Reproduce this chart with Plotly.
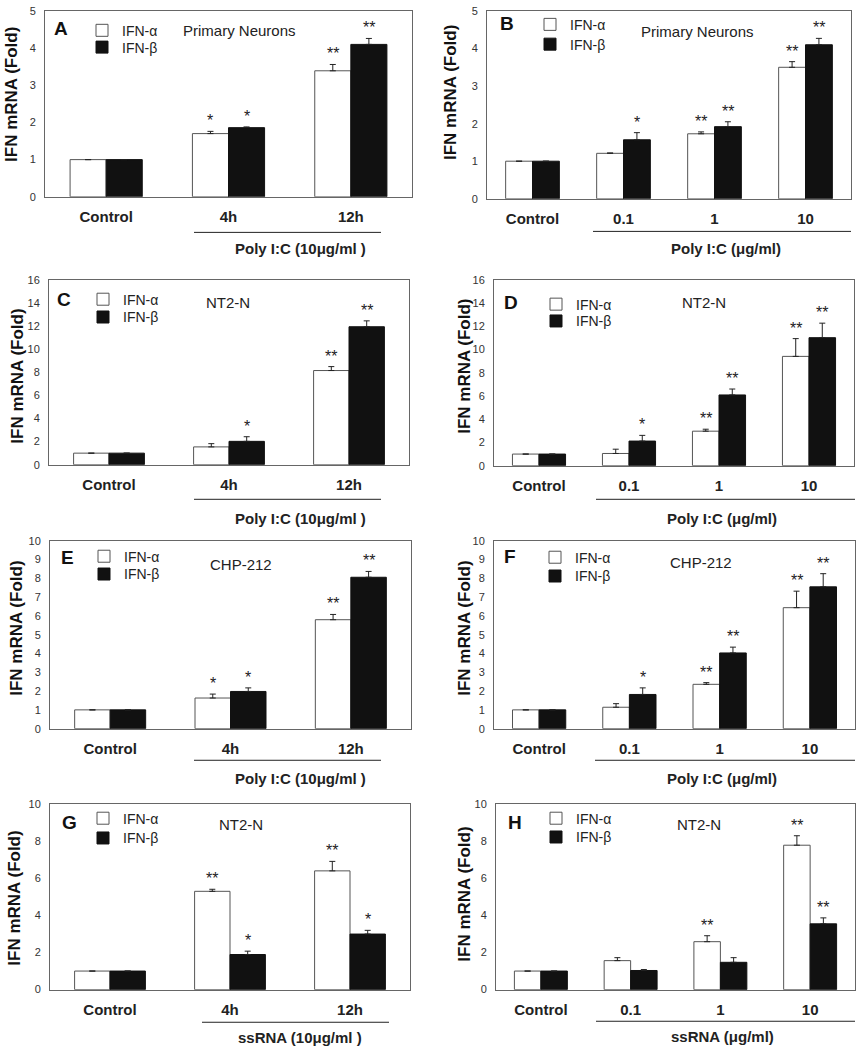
import plotly.graph_objects as go

W, H = 856, 1050
FONT = "Arial, Liberation Sans, Helvetica, sans-serif"

# ---------------- data ----------------
cats_time = ["Control", "4h", "12h"]
cats_dose = ["Control", "0.1", "1", "10"]

# Panel A – Primary Neurons, Poly I:C time
a_alpha = [1.0, 1.70, 3.39]
a_alpha_err = [0.0, 0.06, 0.17]
a_beta = [1.0, 1.86, 4.10]
a_beta_err = [0.0, 0.02, 0.16]
a_alpha_sig = ["", "*", "**"]
a_beta_sig = ["", "*", "**"]

# Panel B – Primary Neurons, Poly I:C dose
b_alpha = [1.0, 1.21, 1.73, 3.50]
b_alpha_err = [0.0, 0.01, 0.05, 0.15]
b_beta = [1.0, 1.57, 1.92, 4.10]
b_beta_err = [0.0, 0.19, 0.13, 0.17]
b_alpha_sig = ["", "", "**", "**"]
b_beta_sig = ["", "*", "**", "**"]

# Panel C – NT2-N, Poly I:C time
c_alpha = [1.0, 1.54, 8.15]
c_alpha_err = [0.0, 0.28, 0.34]
c_beta = [1.0, 2.02, 11.94]
c_beta_err = [0.0, 0.40, 0.51]
c_alpha_sig = ["", "", "**"]
c_beta_sig = ["", "*", "**"]

# Panel D – NT2-N, Poly I:C dose
d_alpha = [1.0, 1.05, 2.97, 9.41]
d_alpha_err = [0.0, 0.37, 0.17, 1.53]
d_beta = [1.0, 2.12, 6.09, 11.02]
d_beta_err = [0.0, 0.49, 0.51, 1.25]
d_alpha_sig = ["", "", "**", "**"]
d_beta_sig = ["", "*", "**", "**"]

# Panel E – CHP-212, Poly I:C time
e_alpha = [1.0, 1.63, 5.80]
e_alpha_err = [0.0, 0.21, 0.28]
e_beta = [1.0, 1.98, 8.06]
e_beta_err = [0.0, 0.19, 0.31]
e_alpha_sig = ["", "*", "**"]
e_beta_sig = ["", "*", "**"]

# Panel F – CHP-212, Poly I:C dose
f_alpha = [1.0, 1.14, 2.36, 6.44]
f_alpha_err = [0.0, 0.19, 0.09, 0.88]
f_beta = [1.0, 1.82, 4.03, 7.55]
f_beta_err = [0.0, 0.35, 0.31, 0.70]
f_alpha_sig = ["", "", "**", "**"]
f_beta_sig = ["", "*", "**", "**"]

# Panel G – NT2-N, ssRNA time
g_alpha = [1.0, 5.29, 6.39]
g_alpha_err = [0.0, 0.11, 0.51]
g_beta = [1.0, 1.89, 2.99]
g_beta_err = [0.0, 0.18, 0.20]
g_alpha_sig = ["", "**", "**"]
g_beta_sig = ["", "*", "*"]

# Panel H – NT2-N, ssRNA dose
h_alpha = [1.0, 1.56, 2.58, 7.77]
h_alpha_err = [0.0, 0.16, 0.32, 0.51]
h_beta = [1.0, 1.03, 1.47, 3.54]
h_beta_err = [0.0, 0.05, 0.25, 0.32]
h_alpha_sig = ["", "", "**", "**"]
h_beta_sig = ["", "", "", "**"]

series_names = ["IFN-α", "IFN-β"]

# ---------------- layout helpers ----------------
def px_x(p):
    return p / W

def px_y(p):
    return 1 - p / H

BARGAP = 0.41

panels = [
    dict(letter="A", sub="Primary Neurons", cats=cats_time,
         al=a_alpha, ae=a_alpha_err, bt=a_beta, be=a_beta_err,
         asig=a_alpha_sig, bsig=a_beta_sig, ymax=5, dtick=1,
         box=(45, 412, 5, 193), grp="Poly I:C (10μg/ml )",
         line=(194, 381, 229), glab=(300, 245),
         leg=(102, 25, 42), let=(61, 23), subp=(239, 25), yt=(12, 90)),
    dict(letter="B", sub="Primary Neurons", cats=cats_dose,
         al=b_alpha, ae=b_alpha_err, bt=b_beta, be=b_beta_err,
         asig=b_alpha_sig, bsig=b_beta_sig, ymax=5, dtick=1,
         box=(487, 851, 5, 195), grp="Poly I:C (μg/ml)",
         line=(593, 851, 228), glab=(726, 245),
         leg=(550, 19, 39), let=(507, 18), subp=(697, 26), yt=(451, 88)),
    dict(letter="C", sub="NT2-N", cats=cats_time,
         al=c_alpha, ae=c_alpha_err, bt=c_beta, be=c_beta_err,
         asig=c_alpha_sig, bsig=c_beta_sig, ymax=16, dtick=2,
         box=(49, 409, 277, 464), grp="Poly I:C (10μg/ml )",
         line=(194, 381, 499), glab=(300, 518),
         leg=(103, 297, 315), let=(64, 297), subp=(228, 300), yt=(18, 375)),
    dict(letter="D", sub="NT2-N", cats=cats_dose,
         al=d_alpha, ae=d_alpha_err, bt=d_beta, be=d_beta_err,
         asig=d_alpha_sig, bsig=d_beta_sig, ymax=16, dtick=2,
         box=(494, 854, 277, 465), grp="Poly I:C (μg/ml)",
         line=(596, 855, 499), glab=(722, 518),
         leg=(556, 302, 319), let=(511, 300), subp=(704, 300), yt=(465, 365)),
    dict(letter="E", sub="CHP-212", cats=cats_time,
         al=e_alpha, ae=e_alpha_err, bt=e_beta, be=e_beta_err,
         asig=e_alpha_sig, bsig=e_beta_sig, ymax=10, dtick=1,
         box=(50, 411, 541, 731), grp="Poly I:C (10μg/ml )",
         line=(194, 381, 763), glab=(300, 781),
         leg=(104, 557, 575), let=(67, 558), subp=(241, 565), yt=(17, 630)),
    dict(letter="F", sub="CHP-212", cats=cats_dose,
         al=f_alpha, ae=f_alpha_err, bt=f_beta, be=f_beta_err,
         asig=f_alpha_sig, bsig=f_beta_sig, ymax=10, dtick=1,
         box=(494, 855, 541, 731), grp="Poly I:C (μg/ml)",
         line=(595, 855, 763), glab=(722, 781),
         leg=(555, 558, 577), let=(510, 557), subp=(701, 563), yt=(465, 630)),
    dict(letter="G", sub="NT2-N", cats=cats_time,
         al=g_alpha, ae=g_alpha_err, bt=g_beta, be=g_beta_err,
         asig=g_alpha_sig, bsig=g_beta_sig, ymax=10, dtick=2,
         box=(50, 410, 807, 995), grp="ssRNA (10μg/ml )",
         line=(202, 389, 1028), glab=(300, 1043),
         leg=(103, 822, 842), let=(69, 826), subp=(241, 828), yt=(15, 903)),
    dict(letter="H", sub="NT2-N", cats=cats_dose,
         al=h_alpha, ae=h_alpha_err, bt=h_beta, be=h_beta_err,
         asig=h_alpha_sig, bsig=h_beta_sig, ymax=10, dtick=2,
         box=(496, 855, 807, 995), grp="ssRNA (μg/ml)",
         line=(596, 855, 1027), glab=(722, 1042),
         leg=(556, 822, 841), let=(515, 826), subp=(699, 828), yt=(465, 899)),
]

fig = go.Figure()
annotations = []
shapes = []
layout_extra = {}

for i, p in enumerate(panels):
    n = i + 1
    xa = "x" if n == 1 else f"x{n}"
    ya = "y" if n == 1 else f"y{n}"
    xkey = "xaxis" if n == 1 else f"xaxis{n}"
    ykey = "yaxis" if n == 1 else f"yaxis{n}"
    idx = list(range(len(p["cats"])))
    lx, ly1, ly2 = p["leg"]

    for s, (vals, errs, fill, line_c, ly) in enumerate([
            (p["al"], p["ae"], "white", "#555555", ly1),
            (p["bt"], p["be"], "#111111", "#111111", ly2)]):
        lnum = 2 * i + s + 1
        lkey = "legend" if lnum == 1 else f"legend{lnum}"
        fig.add_trace(go.Bar(
            x=idx, y=vals, name=series_names[s],
            marker=dict(color=fill, line=dict(color=line_c, width=1)),
            error_y=dict(type="data", symmetric=False, array=errs,
                         arrayminus=[0] * len(errs), color="#222222",
                         thickness=1, width=3),
            xaxis=xa, yaxis=ya, legend=lkey, offsetgroup=str(s),
            showlegend=True,
        ))
        layout_extra[lkey] = dict(
            x=px_x(lx - 20), y=px_y(ly), xanchor="left", yanchor="middle",
            bgcolor="rgba(0,0,0,0)", borderwidth=0, tracegroupgap=0,
            font=dict(family=FONT, size=14, color="#222222"),
            itemclick=False, itemdoubleclick=False, itemwidth=30,
        )

    l, r, t, b = p["box"]
    layout_extra[xkey] = dict(
        domain=[px_x(l), px_x(r)], anchor=ya, range=[-0.5, len(idx) - 0.5],
        tickvals=idx, ticktext=[f"<b>{c}</b>" for c in p["cats"]],
        tickfont=dict(family=FONT, size=15, color="#222222"),
        ticks="outside", ticklen=6, tickcolor="rgba(0,0,0,0)",
        showline=True, linecolor="#666666", linewidth=1, mirror=True,
        showgrid=False, zeroline=False, fixedrange=True,
    )
    layout_extra[ykey] = dict(
        domain=[px_y(b), px_y(t)], anchor=xa, range=[0, p["ymax"]],
        dtick=p["dtick"], tick0=0,
        tickfont=dict(family=FONT, size=11, color="#333333"),
        ticks="outside", ticklen=6, tickcolor="rgba(0,0,0,0)",
        showline=True, linecolor="#666666", linewidth=1, mirror=True,
        showgrid=False, zeroline=False, fixedrange=True,
    )

    # significance stars
    half = (1 - BARGAP) / 4
    for s, (vals, errs, sig) in enumerate([(p["al"], p["ae"], p["asig"]),
                                          (p["bt"], p["be"], p["bsig"])]):
        for k in idx:
            if sig[k]:
                annotations.append(dict(
                    x=k + (-half if s == 0 else half), y=vals[k] + errs[k],
                    xref=xa, yref=ya, text=sig[k], showarrow=False,
                    yanchor="bottom", yshift=0,
                    font=dict(family=FONT, size=16, color="#222222")))

    # group bracket line + label
    x1, x2, yl = p["line"]
    shapes.append(dict(type="line", xref="paper", yref="paper",
                       x0=px_x(x1), x1=px_x(x2), y0=px_y(yl), y1=px_y(yl),
                       line=dict(color="#222222", width=1)))
    gx, gy = p["glab"]
    annotations.append(dict(x=px_x(gx), y=px_y(gy), xref="paper", yref="paper",
                            text=f"<b>{p['grp']}</b>", showarrow=False,
                            xanchor="center", yanchor="middle",
                            font=dict(family=FONT, size=15, color="#222222")))
    # panel letter
    ex, ey = p["let"]
    annotations.append(dict(x=px_x(ex), y=px_y(ey), xref="paper", yref="paper",
                            text=f"<b>{p['letter']}</b>", showarrow=False,
                            xanchor="center", yanchor="middle",
                            font=dict(family=FONT, size=19, color="#111111")))
    # subtitle
    sx, sy = p["subp"]
    annotations.append(dict(x=px_x(sx), y=px_y(sy), xref="paper", yref="paper",
                            text=p["sub"], showarrow=False,
                            xanchor="center", yanchor="middle",
                            font=dict(family=FONT, size=15, color="#222222")))
    # y title
    tx, ty = p["yt"]
    annotations.append(dict(x=px_x(tx), y=px_y(ty), xref="paper", yref="paper",
                            text="<b>IFN mRNA (Fold)</b>", showarrow=False,
                            textangle=-90, xanchor="center", yanchor="middle",
                            font=dict(family=FONT, size=17, color="#111111")))

fig.update_layout(
    width=W, height=H, margin=dict(l=0, r=0, t=0, b=0),
    paper_bgcolor="white", plot_bgcolor="white",
    barmode="group", bargap=BARGAP, bargroupgap=0,
    annotations=annotations, shapes=shapes,
    font=dict(family=FONT, color="#222222"),
    **layout_extra,
)

fig.write_html(
    "out.html",
    config={"displayModeBar": False},
    post_script="document.body.style.margin='0';document.body.style.padding='0';document.body.style.overflow='hidden';",
)
